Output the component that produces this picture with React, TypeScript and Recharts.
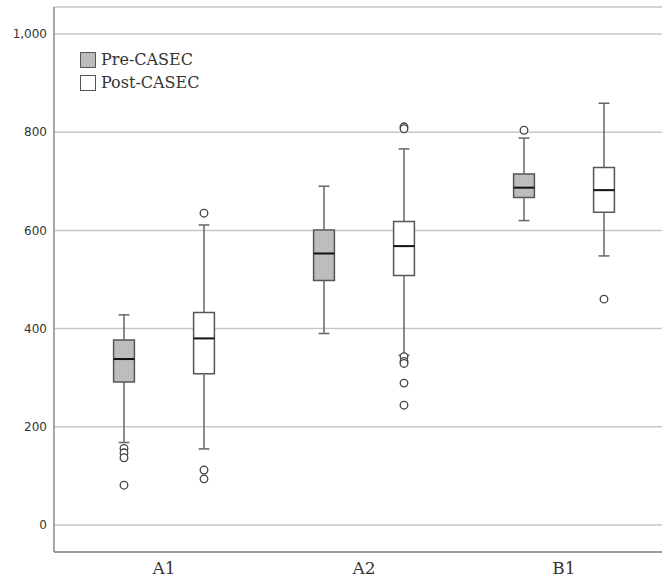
import {
  CartesianGrid,
  ComposedChart,
  Legend,
  ReferenceArea,
  ReferenceLine,
  Scatter,
  XAxis,
  YAxis
} from "recharts";

const categories = ["A1", "A2", "B1"];
const yTicks = [0, 200, 400, 600, 800, 1000];

// Pre-CASEC box stats per category
const preLow = [168, 390, 620];
const preQ1 = [291, 498, 667];
const preMedian = [338, 553, 687];
const preQ3 = [377, 601, 715];
const preHigh = [428, 690, 788];
const preOutliers = [[156, 147, 137, 81], [], [804]];

// Post-CASEC box stats per category
const postLow = [155, 346, 548];
const postQ1 = [308, 508, 637];
const postMedian = [380, 568, 682];
const postQ3 = [433, 618, 728];
const postHigh = [611, 766, 859];
const postOutliers = [[635, 112, 94], [811, 807, 343, 333, 329, 289, 244], [460]];

const groups = [
  { name: "Pre-CASEC", offset: -0.2, fill: "#bdbdbd", low: preLow, q1: preQ1, median: preMedian, q3: preQ3, high: preHigh, outliers: preOutliers },
  { name: "Post-CASEC", offset: 0.2, fill: "#ffffff", low: postLow, q1: postQ1, median: postMedian, q3: postQ3, high: postHigh, outliers: postOutliers }
];

const HALF_BOX = 0.052;
const HALF_CAP = 0.027;
const edge = "#555555";

function boxElements() {
  const out: any[] = [];
  groups.forEach((g, gi) => {
    categories.forEach((_, i) => {
      const x = i + g.offset;
      const k = `${gi}-${i}`;
      out.push(
        <ReferenceLine key={`wl${k}`} segment={[{ x, y: g.low[i] }, { x, y: g.q1[i] }]} stroke="#666" strokeWidth={1.5} />,
        <ReferenceLine key={`wh${k}`} segment={[{ x, y: g.q3[i] }, { x, y: g.high[i] }]} stroke="#666" strokeWidth={1.5} />,
        <ReferenceLine key={`cl${k}`} segment={[{ x: x - HALF_CAP, y: g.low[i] }, { x: x + HALF_CAP, y: g.low[i] }]} stroke="#666" strokeWidth={1.5} />,
        <ReferenceLine key={`ch${k}`} segment={[{ x: x - HALF_CAP, y: g.high[i] }, { x: x + HALF_CAP, y: g.high[i] }]} stroke="#666" strokeWidth={1.5} />,
        <ReferenceArea key={`b${k}`} x1={x - HALF_BOX} x2={x + HALF_BOX} y1={g.q1[i]} y2={g.q3[i]} fill={g.fill} fillOpacity={1} stroke={edge} strokeWidth={1.5} />,
        <ReferenceLine key={`m${k}`} segment={[{ x: x - HALF_BOX, y: g.median[i] }, { x: x + HALF_BOX, y: g.median[i] }]} stroke="#111" strokeWidth={2} />
      );
    });
  });
  return out;
}

function outlierPoints(g: (typeof groups)[number]) {
  return g.outliers.flatMap((vals, i) => vals.map((y) => ({ x: i + g.offset, y })));
}

function Dot(props: any) {
  return <circle cx={props.cx} cy={props.cy} r={3.8} fill="#fff" stroke="#444" strokeWidth={1.3} />;
}

function LegendBox() {
  return (
    <div style={{ fontFamily: "DejaVu Serif", fontSize: 16, color: "#333" }}>
      {groups.map((g) => (
        <div key={g.name} style={{ display: "flex", alignItems: "center", height: 23 }}>
          <span style={{ display: "inline-block", width: 14, height: 14, background: g.fill, border: `1.5px solid ${edge}`, marginRight: 5 }} />
          {g.name}
        </div>
      ))}
    </div>
  );
}

export default function App() {
  return (
    <div style={{ position: "absolute", left: 0, top: 0, background: "#fff" }}>
      <ComposedChart width={662} height={580} margin={{ top: 7, right: 0, left: 0, bottom: 0 }}>
        <CartesianGrid vertical={false} stroke="#c8c8c8" strokeWidth={1.5} />
        <XAxis
          type="number"
          dataKey="x"
          domain={[-0.55, 2.49]}
          ticks={[0, 1, 2]}
          tickFormatter={(v) => categories[v]}
          allowDataOverflow
          height={28}
          tickLine={false}
          tickSize={0}
          tickMargin={10}
          axisLine={{ stroke: "#888", strokeWidth: 1.5 }}
          tick={{ fill: "#333", fontSize: 17, fontFamily: "DejaVu Serif" }}
        />
        <YAxis
          type="number"
          dataKey="y"
          domain={[-55, 1055]}
          ticks={yTicks}
          allowDataOverflow
          width={54}
          tickLine={false}
          tickSize={0}
          tickMargin={7}
          tickFormatter={(v) => v.toLocaleString("en-US")}
          axisLine={{ stroke: "#888", strokeWidth: 1.5 }}
          tick={{ fill: "#333", fontSize: 12, fontFamily: "DejaVu Sans" }}
        />
        {boxElements()}
        {groups.map((g) => (
          <Scatter key={g.name} name={g.name} data={outlierPoints(g)} shape={<Dot />} isAnimationActive={false} />
        ))}
        <Legend
          layout="horizontal"
          verticalAlign="middle"
          align="center"
          content={() => <LegendBox />}
          wrapperStyle={{ position: "absolute", left: 80, top: 48, width: "auto", height: "auto" }}
        />
      </ComposedChart>
    </div>
  );
}
